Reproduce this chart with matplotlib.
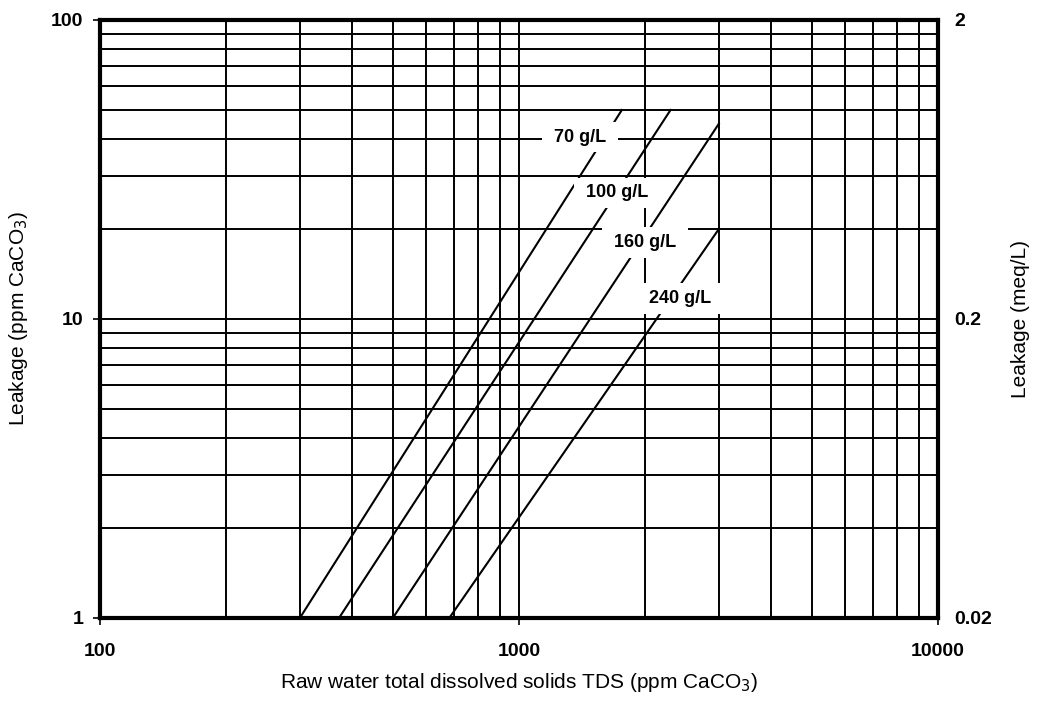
import numpy as np
import matplotlib.pyplot as plt

plt.rcParams['font.family'] = ['Liberation Sans', 'DejaVu Sans']

# resin regeneration levels and their curves (TDS ppm, leakage ppm)
levels = ["70 g/L", "100 g/L", "160 g/L", "240 g/L"]
tds_start = [300, 372, 500, 682]
tds_end = [1760, 2300, 3000, 3000]
leak_start = [1, 1, 1, 1]
leak_end = [50, 50, 45, 20]
label_pos = [(1400, 40.6), (1713, 26.4), (2000, 18.0), (2420, 11.7)]

x_ticks = [100, 1000, 10000]
y_ticks = [1, 10, 100]
y2_ticks = [0.02, 0.2, 2]

fig = plt.figure(figsize=(10.37, 7.04), dpi=100)
ax = fig.add_axes([0.0964, 0.1222, 0.8081, 0.8494])
ax.set_xscale('log')
ax.set_yscale('log')
ax.set_xlim(100, 10000)
ax.set_ylim(1, 100)

# grid at every decade subdivision
for dec in [100, 1000]:
    for m in range(1, 10):
        v = dec * m
        if 100 < v < 10000:
            ax.axvline(v, color='black', lw=1.4, zorder=1)
for dec in [1, 10]:
    for m in range(1, 10):
        v = dec * m
        if 1 < v < 100:
            ax.axhline(v, color='black', lw=1.4, zorder=1)

for i in range(len(levels)):
    ax.plot([tds_start[i], tds_end[i]], [leak_start[i], leak_end[i]],
            color='black', lw=1.5, zorder=2)
    ax.text(label_pos[i][0], label_pos[i][1], " " + levels[i] + " ", ha='center', va='center',
            fontsize=13, fontweight='bold', zorder=3,
            bbox=dict(facecolor='white', edgecolor='none', pad=5))

for s in ax.spines.values():
    s.set_linewidth(3)
    s.set_zorder(4)

ax.set_xticks(x_ticks)
ax.set_xticklabels([str(v) for v in x_ticks])
ax.set_yticks(y_ticks)
ax.set_yticklabels([str(v) for v in y_ticks])
ax.minorticks_off()
ax.tick_params(axis='x', direction='out', length=5, width=1.2, pad=13, labelsize=14)
ax.tick_params(axis='y', direction='out', length=5, width=1.2, pad=7, labelsize=14)
for lab in ax.get_xticklabels() + ax.get_yticklabels():
    lab.set_fontweight('bold')

ax.set_xlabel("Raw water total dissolved solids TDS (ppm CaCO$_3$)", fontsize=15)
ax.xaxis.set_label_coords(0.5, -0.088)
ax.set_ylabel("Leakage (ppm CaCO$_3$)", fontsize=15)
ax.yaxis.set_label_coords(-0.084, 0.5)

ax2 = ax.twinx()
ax2.set_yscale('log')
ax2.set_ylim(0.02, 2)
ax2.set_yticks(y2_ticks)
ax2.set_yticklabels([str(v) for v in y2_ticks])
ax2.minorticks_off()
ax2.tick_params(axis='y', length=0, pad=12, labelsize=14)
for lab in ax2.get_yticklabels():
    lab.set_fontweight('bold')
for s in ax2.spines.values():
    s.set_visible(False)
ax2.set_ylabel("Leakage (meq/L)", fontsize=15, rotation=90)
ax2.yaxis.set_label_coords(1.087, 0.5)

fig.savefig("out.png", dpi=100)
